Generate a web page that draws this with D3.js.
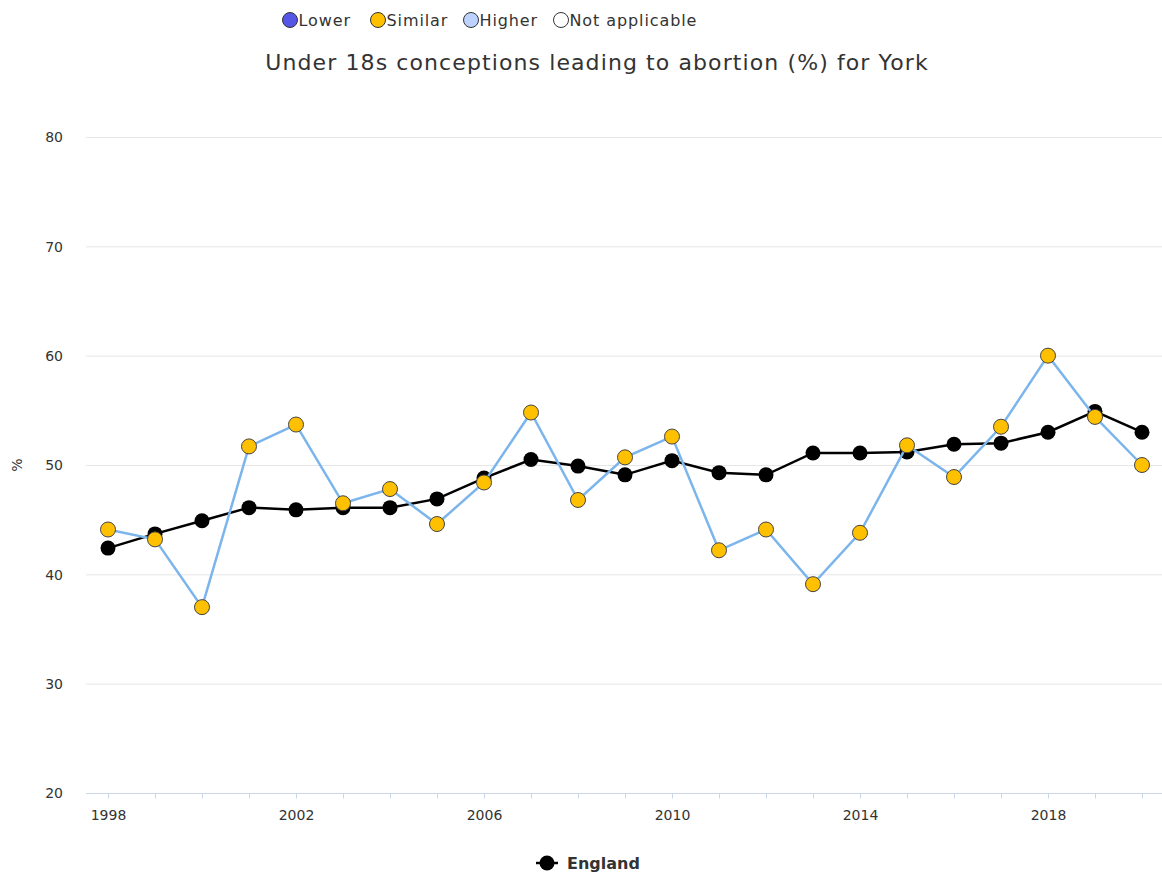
<!DOCTYPE html>
<html><head><meta charset="utf-8">
<script src="https://cdn.jsdelivr.net/npm/d3@7"></script>
<style>body{margin:0;background:#fff;}svg{display:block;font-family:"DejaVu Sans",sans-serif;}</style>
</head><body>
<svg id="c" width="1162" height="877"></svg>
<script>
const years = [1998,1999,2000,2001,2002,2003,2004,2005,2006,2007,2008,2009,2010,2011,2012,2013,2014,2015,2016,2017,2018,2019,2020];
const york = [44.1,43.2,37.0,51.7,53.7,46.5,47.8,44.6,48.4,54.8,46.8,50.7,52.6,42.2,44.1,39.1,43.8,51.8,48.9,53.5,60.0,54.4,50.0];
const england = [42.4,43.7,44.9,46.1,45.9,46.1,46.1,46.9,48.8,50.5,49.9,49.1,50.4,49.3,49.1,51.1,51.1,51.2,51.9,52.0,53.0,54.9,53.0];
const yTicks = [20,30,40,50,60,70,80];
const xLabelYears = [1998,2002,2006,2010,2014,2018];
const legendItems = [["Lower","#5555e6"],["Similar","#ffc000"],["Higher","#bed2ff"],["Not applicable","#ffffff"]];
const title = "Under 18s conceptions leading to abortion (%) for York";

const svg = d3.select("#c");
const plotL = 86, plotR = 1162;
const x = d3.scaleLinear().domain([1998,2020]).range([108,1142]);
const y = d3.scaleLinear().domain([20,80]).range([793,137]);

// gridlines
svg.append("g").selectAll("line").data(yTicks.filter(d=>d!==20)).join("line")
  .attr("x1",plotL).attr("x2",plotR).attr("y1",d=>y(d)+0.5).attr("y2",d=>y(d)+0.5)
  .attr("stroke","#e6e6e6").attr("stroke-width",1);

// y axis labels
const ya = d3.axisLeft(y).tickValues(yTicks).tickSize(0).tickPadding(0);
const yg = svg.append("g").attr("transform","translate(63,0)").call(ya);
yg.select(".domain").remove();
yg.selectAll("text").attr("font-size",14).attr("fill","#333").attr("font-family","DejaVu Sans").attr("dy","0.35em");

// x axis
svg.append("line").attr("x1",plotL).attr("x2",plotR).attr("y1",793.5).attr("y2",793.5).attr("stroke","#ccd6eb");
const xa = d3.axisBottom(x).tickValues(years).tickSize(5).tickFormat(d=>xLabelYears.includes(d)?String(d):"");
const xg = svg.append("g").attr("transform","translate(0,793.5)").call(xa);
xg.select(".domain").remove();
xg.selectAll(".tick line").attr("stroke","#ccd6eb");
xg.selectAll("text").attr("font-size",14).attr("fill","#333").attr("font-family","DejaVu Sans").attr("y",26).attr("dy",0);

// y title
svg.append("text").attr("transform","translate(22,465) rotate(-90)").attr("text-anchor","middle")
  .attr("font-size",14).attr("fill","#333").text("%");

// title
svg.append("text").attr("x",597).attr("y",70).attr("text-anchor","middle").attr("font-size",22)
  .attr("letter-spacing",1.1).attr("fill","#333").text(title);

const line = d3.line().x((d,i)=>x(years[i])).y(d=>y(d));

// England
svg.append("path").datum(england).attr("d",line).attr("fill","none").attr("stroke","#000").attr("stroke-width",2.5);
svg.append("g").selectAll("circle").data(england).join("circle")
  .attr("cx",(d,i)=>x(years[i])).attr("cy",d=>y(d)).attr("r",7.5).attr("fill","#000");

// York
svg.append("path").datum(york).attr("d",line).attr("fill","none").attr("stroke","#7cb5ec").attr("stroke-width",2.5);
svg.append("g").selectAll("circle").data(york).join("circle")
  .attr("cx",(d,i)=>x(years[i])).attr("cy",d=>y(d)).attr("r",7.5).attr("fill","#ffc000")
  .attr("stroke","#444").attr("stroke-width",1);

// top legend
const lx = [290,378,471,561];
const lg = svg.append("g");
legendItems.forEach((it,i)=>{
  lg.append("circle").attr("cx",lx[i]).attr("cy",20).attr("r",7.5).attr("fill",it[1]).attr("stroke","#333").attr("stroke-width",1);
  lg.append("text").attr("x",lx[i]+8.5).attr("y",26).attr("font-size",16).attr("letter-spacing",0.9).attr("fill","#333").text(it[0]);
});

// bottom legend
svg.append("line").attr("x1",536).attr("x2",558).attr("y1",863).attr("y2",863).attr("stroke","#000").attr("stroke-width",2.5);
svg.append("circle").attr("cx",547).attr("cy",863).attr("r",7.5).attr("fill","#000");
svg.append("text").attr("x",567).attr("y",869).attr("font-size",16).attr("font-weight","bold").attr("fill","#333").text("England");
</script>
</body></html>
